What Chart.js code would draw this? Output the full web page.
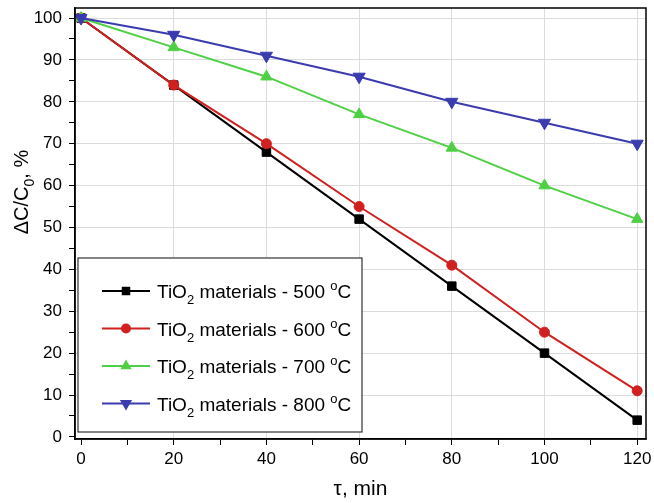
<!DOCTYPE html>
<html>
<head>
<meta charset="utf-8">
<script src="https://cdn.jsdelivr.net/npm/chart.js@4/dist/chart.umd.min.js"></script>
<style>
  html, body { margin: 0; padding: 0; background: #fff; }
  #wrap { width: 654px; height: 503px; position: relative; }
</style>
</head>
<body>
<div id="wrap"><canvas id="chart"></canvas></div>
<script>
// Data
const times = [0, 20, 40, 60, 80, 100, 120];
const s500 = [100, 84, 68, 52, 36, 20, 4];
const s600 = [100, 84, 70, 55, 41, 25, 11];
const s700 = [100, 93, 86, 77, 69, 60, 52];
const s800 = [100, 96, 91, 86, 80, 75, 70];
const seriesTemps = ['500', '600', '700', '800'];
const xTicks = [0, 10, 20, 30, 40, 50, 60, 70, 80, 90, 100, 110, 120];
const yTicks = [0, 5, 10, 15, 20, 25, 30, 35, 40, 45, 50, 55, 60, 65, 70, 75, 80, 85, 90, 95, 100];

const FONT = "'Liberation Sans', Arial, Helvetica, sans-serif";
const colors = ['#000000', '#d0201f', '#4fd044', '#3b3bb0'];
const styles = [
    { pointStyle: 'rect', radius: 6, rotation: 0 },
    { pointStyle: 'circle', radius: 5, rotation: 0 },
    { pointStyle: 'triangle', radius: 6.5, rotation: 0 },
    { pointStyle: 'triangle', radius: 7, rotation: 180 }
];
const allSeries = [s500, s600, s700, s800];

const datasets = allSeries.map((vals, i) => ({
    label: 'TiO2 materials - ' + seriesTemps[i] + ' °C',
    data: times.map((t, j) => ({ x: t, y: vals[j] })),
    borderColor: colors[i],
    backgroundColor: colors[i],
    pointBorderColor: colors[i],
    pointBackgroundColor: colors[i],
    borderWidth: 2,
    pointStyle: styles[i].pointStyle,
    pointRadius: styles[i].radius,
    pointRotation: styles[i].rotation,
    pointBorderWidth: 1,
    tension: 0,
    order: 4 - i
}));

function drawPointManual(ctx, style, x, y, color) {
    const r = style.radius;
    ctx.save();
    ctx.fillStyle = color;
    ctx.beginPath();
    if (style.pointStyle === 'rect') {
        const s = Math.SQRT1_2 * r;
        ctx.rect(x - s, y - s, 2 * s, 2 * s);
    } else if (style.pointStyle === 'circle') {
        ctx.arc(x, y, r, 0, Math.PI * 2);
    } else {
        const dir = style.rotation === 180 ? -1 : 1;
        const h = r * 1.5;
        ctx.moveTo(x, y - dir * r);
        ctx.lineTo(x - r * 0.866, y - dir * (r - h));
        ctx.lineTo(x + r * 0.866, y - dir * (r - h));
        ctx.closePath();
    }
    ctx.fill();
    ctx.restore();
}

// draws text pieces left to right, some as sub/superscript
function drawRich(ctx, parts, x, y, size) {
    let cx = x;
    parts.forEach(p => {
        const fs = p.sub || p.sup ? Math.round(size * 0.68) : size;
        ctx.font = fs + 'px ' + FONT;
        let dy = 0;
        if (p.sub) dy = size * 0.32;
        if (p.sup) dy = -size * 0.42;
        ctx.fillText(p.t, cx, y + dy);
        cx += ctx.measureText(p.t).width;
    });
    return cx;
}

const decorPlugin = {
    id: 'decor',
    afterDraw(chart) {
        const ctx = chart.ctx;
        const a = chart.chartArea;
        ctx.save();

        // frame
        ctx.strokeStyle = '#000';
        ctx.lineWidth = 1.5;
        ctx.strokeRect(a.left, a.top, a.right - a.left, a.bottom - a.top);

        // legend box
        const bx = a.left + 3, by = 258, bw = 284, bh = a.bottom - 7 - 258;
        ctx.fillStyle = '#fff';
        ctx.fillRect(bx, by, bw, bh);
        ctx.strokeStyle = '#333';
        ctx.lineWidth = 1.2;
        ctx.strokeRect(bx, by, bw, bh);

        ctx.textBaseline = 'alphabetic';
        ctx.textAlign = 'left';
        for (let i = 0; i < 4; i++) {
            const ly = 291 + i * 37.5;
            ctx.strokeStyle = colors[i];
            ctx.lineWidth = 2;
            ctx.beginPath();
            ctx.moveTo(bx + 24, ly);
            ctx.lineTo(bx + 72, ly);
            ctx.stroke();
            drawPointManual(ctx, styles[i], bx + 48, ly, colors[i]);
            ctx.fillStyle = '#000';
            drawRich(ctx, [
                { t: 'TiO' }, { t: '2', sub: true },
                { t: ' materials - ' + seriesTemps[i] + ' ' }, { t: 'o', sup: true }, { t: 'C' }
            ], bx + 79, ly + 7, 19);
        }

        // x title
        ctx.fillStyle = '#000';
        ctx.font = '21px ' + FONT;
        ctx.textAlign = 'center';
        ctx.fillText('τ, min', (a.left + a.right) / 2, 495);

        // y title (rotated, with subscript)
        ctx.save();
        ctx.translate(28, 192);
        ctx.rotate(-Math.PI / 2);
        ctx.textAlign = 'left';
        const parts = [{ t: 'ΔC/C' }, { t: '0', sub: true }, { t: ', %' }];
        let w = 0;
        parts.forEach(p => {
            ctx.font = (p.sub ? 14 : 20) + 'px ' + FONT;
            w += ctx.measureText(p.t).width;
        });
        drawRich(ctx, parts, -w / 2, 0, 20);
        ctx.restore();

        ctx.restore();
    }
};

new Chart(document.getElementById('chart'), {
    type: 'line',
    data: { datasets },
    options: {
        responsive: true,
        maintainAspectRatio: false,
        animation: false,
        layout: { padding: { top: 5, right: 4, left: 0, bottom: 0 } },
        plugins: {
            legend: { display: false },
            tooltip: { enabled: false }
        },
        scales: {
            x: {
                type: 'linear',
                min: -1.3,
                max: 121.9,
                afterBuildTicks: (s) => { s.ticks = xTicks.map(v => ({ value: v })); },
                afterFit: (s) => { s.height = 64; s.paddingLeft = 0; s.paddingRight = 0; },
                border: { color: '#000', width: 1.5 },
                grid: {
                    color: (c) => (c.tick && c.tick.value % 20 === 0 && c.tick.value !== 0) ? '#dcdcdc' : 'rgba(0,0,0,0)',
                    tickColor: '#000',
                    tickLength: 6,
                    lineWidth: 1
                },
                ticks: {
                    color: '#000',
                    font: { family: FONT, size: 17 },
                    padding: 4,
                    maxRotation: 0,
                    autoSkip: false,
                    callback: (v) => (v % 20 === 0 ? String(v) : '')
                }
            },
            y: {
                type: 'linear',
                min: -0.5,
                max: 102.4,
                afterBuildTicks: (s) => { s.ticks = yTicks.map(v => ({ value: v })); },
                afterFit: (s) => { s.width = 75; s.paddingTop = 0; s.paddingBottom = 0; },
                border: { color: '#000', width: 1.5 },
                grid: {
                    color: (c) => (c.tick && c.tick.value % 10 === 0 && c.tick.value !== 0) ? '#dcdcdc' : 'rgba(0,0,0,0)',
                    tickColor: '#000',
                    tickLength: 6,
                    lineWidth: 1
                },
                ticks: {
                    color: '#000',
                    font: { family: FONT, size: 17 },
                    padding: 7,
                    autoSkip: false,
                    callback: (v) => (v % 10 === 0 ? String(v) : '')
                }
            }
        }
    },
    plugins: [decorPlugin]
});
</script>
</body>
</html>
